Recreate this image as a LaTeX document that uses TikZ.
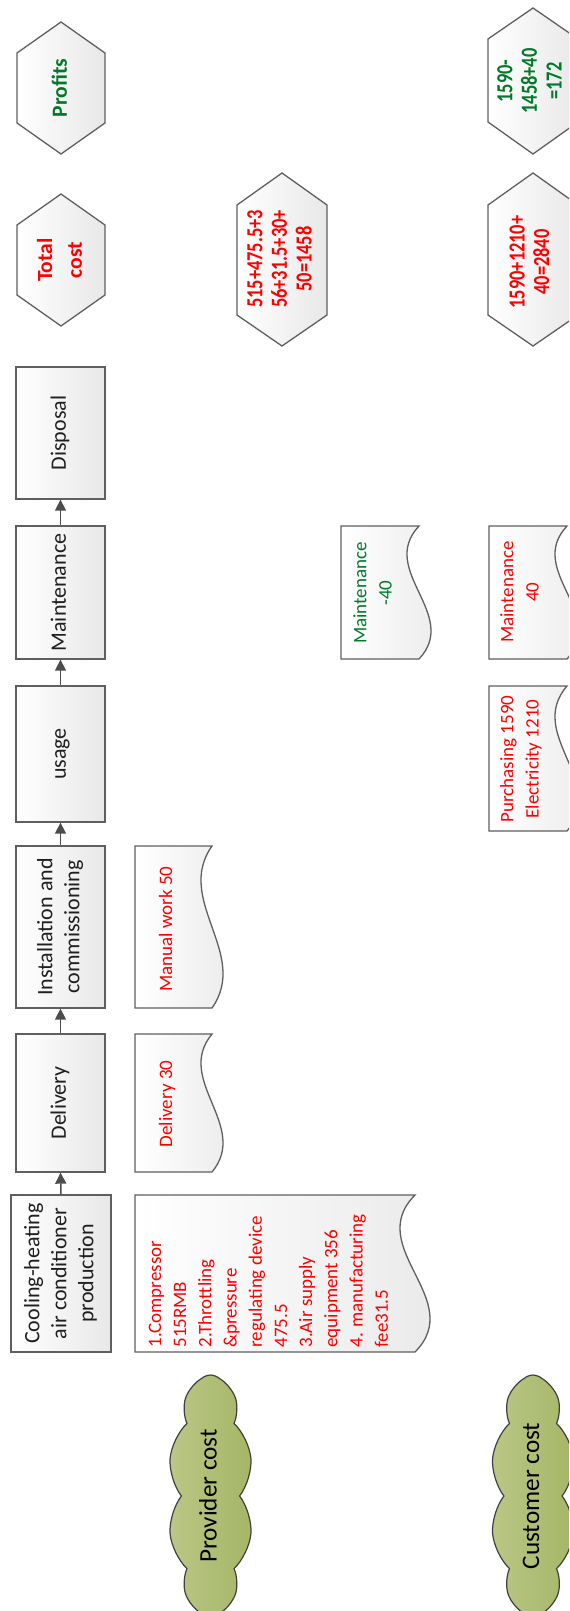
\documentclass[tikz,border=0pt]{standalone}
\usepackage{graphicx}
\usepackage{fontspec}
\setmainfont{Carlito}
\newfontfamily\numfont[FakeStretch=0.8]{Carlito}
\usetikzlibrary{arrows.meta,shapes.symbols}
\definecolor{lgray}{RGB}{95,95,95}
\definecolor{boxR}{RGB}{232,232,232}
\definecolor{tred}{RGB}{255,0,0}
\definecolor{tgreen}{RGB}{0,122,40}
\definecolor{cloudA}{RGB}{186,199,134}
\definecolor{cloudB}{RGB}{165,182,102}
\newcommand\rt[1]{\rotatebox{90}{\begin{tabular}{@{}c@{}}#1\end{tabular}}}
% document shape: x1 x2 y1 y2 amplitude
\newcommand\docpath[5]{%
  \pgfmathsetmacro\kk{3.47*#5}%
  \pgfmathsetmacro\ya{#3+(#4-#3)/3}%
  \pgfmathsetmacro\yb{#3+2*(#4-#3)/3}%
  \pgfmathsetmacro\xa{#2-\kk}%
  \pgfmathsetmacro\xb{#2+\kk}%
  \path[docsty] (#1,#3) -- (#2,#3) .. controls (\xa,\ya) and (\xb,\yb) .. (#2,#4) -- (#1,#4) -- cycle;}
% hexagon: x1 x2 ytip1 yflat1 yflat2 ytip2
\newcommand\hexpath[6]{%
  \pgfmathsetmacro\cx{(#1+#2)/2}%
  \path[docsty] (\cx,#3) -- (#2,#4) -- (#2,#5) -- (\cx,#6) -- (#1,#5) -- (#1,#4) -- cycle;}
\begin{document}
\begin{tikzpicture}[x=0.5pt,y=-0.5pt,
  docsty/.style={draw=lgray, line width=0.65pt, left color=white, right color=boxR},
  procbox/.style={draw=lgray, line width=0.65pt, left color=white, right color=boxR,
    inner sep=0pt, minimum width=44.5pt, font=\fontsize{11}{13.5}\selectfont, text=black!88},
  conn/.style={draw=black!70, line width=0.75pt, -{Triangle[length=5.5pt,width=5.5pt]}},
  doctxt/.style={inner sep=0pt, font=\fontsize{9.5}{12.6}\selectfont},
  hextxt/.style={inner sep=0pt, font=\numfont\bfseries\fontsize{11.5}{12.3}\selectfont},
  cloudsty/.style={cloud, cloud puffs=10, cloud puff arc=85, cloud ignores aspect,
    draw=black!75, line width=0.6pt, left color=cloudA, right color=cloudB,
    minimum width=42.5pt, minimum height=121pt, inner sep=0pt,
    font=\fontsize{12.6}{15}\selectfont, text=black}]
\useasboundingbox (0,0) rectangle (569,1611);
\clip (0,0) rectangle (569,1611);

% process boxes
\node[procbox, minimum height=66pt] (disp) at (60.5,433) {\rt{Disposal}};
\node[procbox, minimum height=66.5pt] (mnt) at (60.5,592.5) {\rt{Maintenance}};
\node[procbox, minimum height=68pt] (use) at (60.5,754) {\rt{usage}};
\node[procbox, minimum height=81pt] (inst) at (60.5,927) {\rt{Installation and\\commissioning}};
\node[procbox, minimum height=69pt] (deliv) at (60.5,1103) {\rt{Delivery}};
\node[procbox, minimum width=50pt, minimum height=78.5pt] (prod) at (61,1273.5) {\rt{Cooling-heating\\air conditioner\\production}};

\draw[conn] (prod.north) -- (deliv.south);
\draw[conn] (deliv.north) -- (inst.south);
\draw[conn] (inst.north) -- (use.south);
\draw[conn] (use.north) -- (mnt.south);
\draw[conn] (mnt.north) -- (disp.south);

% hexagons
\hexpath{17}{105}{22}{53}{123}{154}
\node[inner sep=0pt, font=\bfseries\fontsize{10.8}{15}\selectfont, text=tgreen] (profits) at (61,88) {\rt{Profits}};
\hexpath{17}{105}{194}{225}{295}{326}
\node[inner sep=0pt, font=\bfseries\fontsize{10.8}{15}\selectfont, text=tred] (totcost) at (61,260) {\rt{Total\\cost}};
\hexpath{237}{327}{173}{205}{315}{346}
\node[hextxt, text=tred] (psum) at (282,259) {\rt{515+475.5+3\\56+31.5+30+\\50=1458}};
\hexpath{488}{578}{173}{205}{315}{346}
\node[hextxt, text=tred] (csum) at (532,262) {\rt{1590+1210+\\40=2840}};
\hexpath{488}{578}{8}{39}{122}{154}
\node[hextxt, text=tgreen] (cprof) at (532,81) {\rt{1590-\\1458+40\\=172}};

% documents
\docpath{135}{212}{1034}{1172}{11}
\node[doctxt, text=tred] (ddeliv) at (167,1104) {\rt{Delivery 30}};
\docpath{135}{212}{846}{1008}{11}
\node[doctxt, text=tred] (dmanual) at (167,929) {\rt{Manual work 50}};
\docpath{135}{415}{1195}{1352}{15}
\node[doctxt, text=tred, anchor=south west] (dcost) at (143,1348) {\rotatebox{90}{\begin{tabular}{@{}l@{}}1.Compressor\\515RMB\\2.Throttling\\\&pressure\\regulating device\\475.5\\3.Air supply\\equipment 356\\4. manufacturing\\fee31.5\end{tabular}}};
\docpath{341}{419}{526}{659}{12}
\node[doctxt, text=tgreen] (dpm) at (374,593) {\rt{Maintenance\\-40}};
\docpath{489}{567}{526}{659}{12}
\node[doctxt, text=tred] (dcm) at (521,592) {\rt{Maintenance\\40}};
\docpath{489}{567}{686}{831}{12}
\node[doctxt, text=tred] (dpurch) at (521,759) {\rt{Purchasing 1590\\Electricity 1210}};

% clouds
\node[cloudsty] (pcloud) at (210.5,1496) {\rt{Provider cost}};
\node[cloudsty] (ccloud) at (533,1496) {\rt{Customer cost}};
\end{tikzpicture}
\end{document}
